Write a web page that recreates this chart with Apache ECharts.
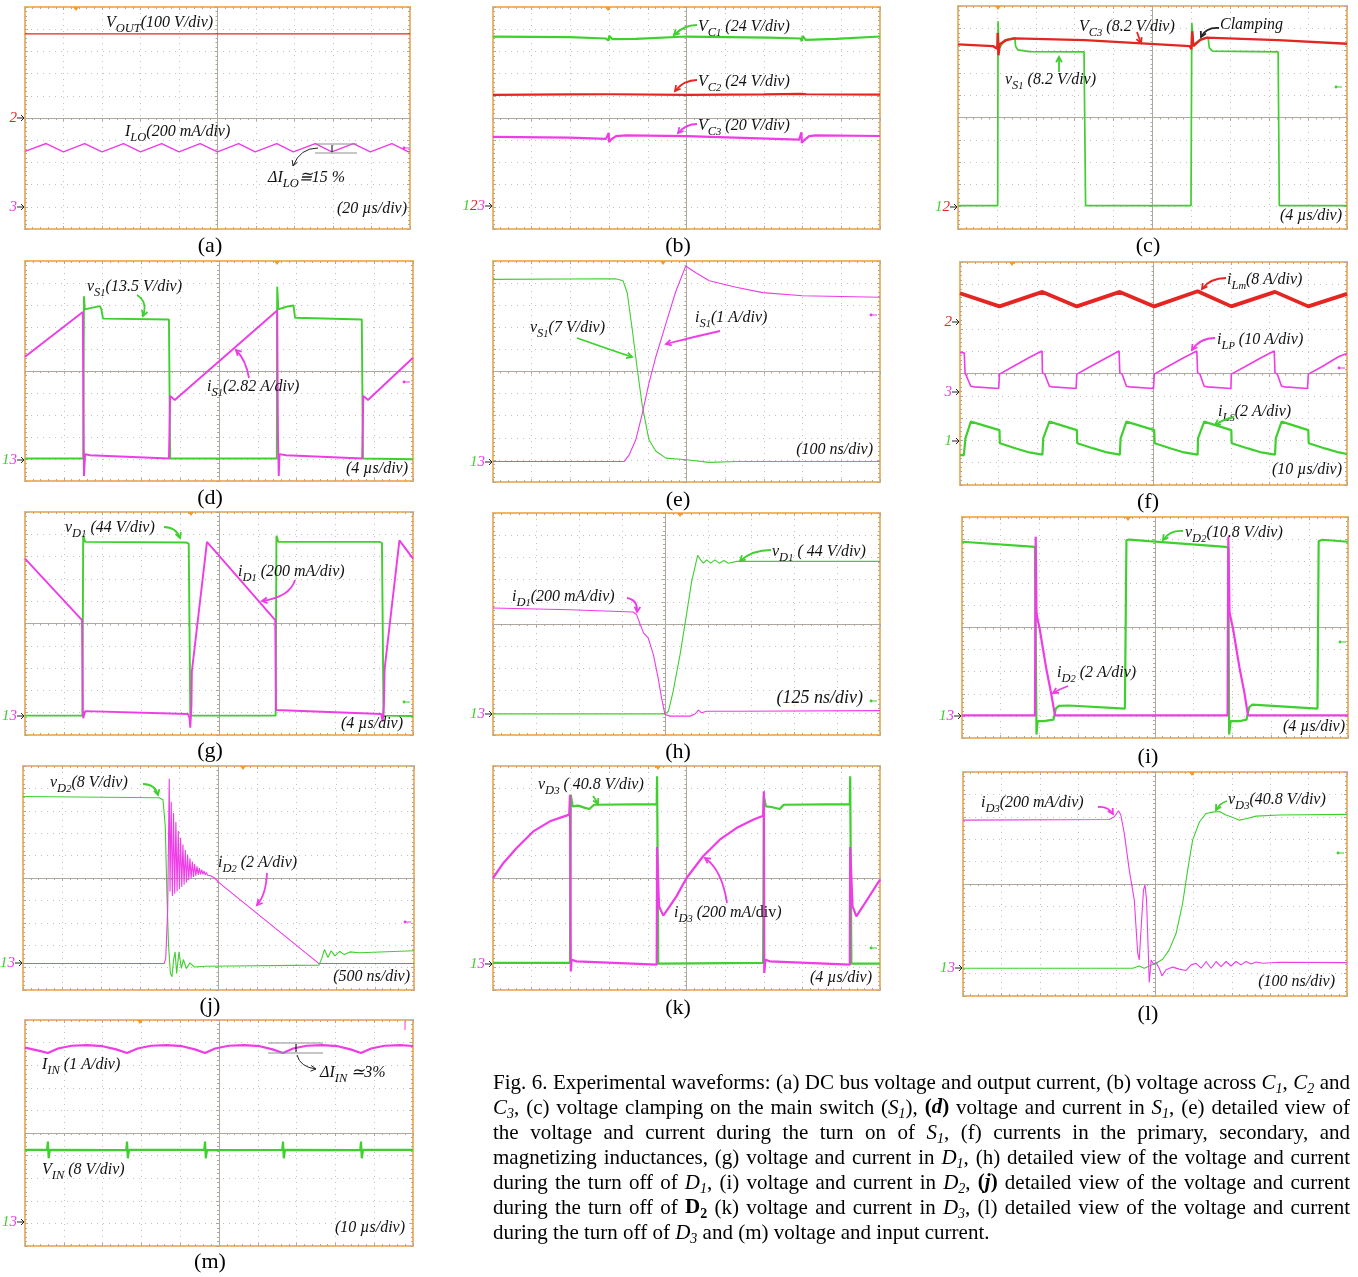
<!DOCTYPE html>
<html lang="en">
<head>
<meta charset="UTF-8">
<title>Fig. 6 experimental waveforms</title>
<style>
  html, body { margin: 0; padding: 0; background: #fff; }
  #main { width: 1358px; height: 1277px; }
</style>
<script src="https://cdn.jsdelivr.net/npm/echarts@6/dist/echarts.min.js"></script>
</head>
<body>
<div id="main"></div>
<script>
// every trace is [time, amplitude] in scope divisions, 0 = screen centre
var aVout = [[-5,3.79],[5,3.79]];
var aIlo = [[-5,-1.5],[-4.45,-1.15],[-4,-1.53],[-3.45,-1.15],[-3,-1.53],[-2.44,-1.15],[-2,-1.53],[-1.45,-1.15],[-1,-1.53],[-0.45,-1.15],[0,-1.53],[0.55,-1.15],[0.98,-1.53],[1.54,-1.15],[1.97,-1.53],[2.54,-1.15],[2.97,-1.53],[3.53,-1.15],[3.97,-1.53],[4.53,-1.15],[4.96,-1.53],[5,-1.5]];

var bVc1 = [[-5,3.67],[-3.03,3.64],[-2.08,3.58],[-2.04,3.64],[-2.01,3.49],[-2.0,3.7],[-1.91,3.55],[-1.31,3.56],[0,3.67],[2.13,3.62],[2.95,3.58],[2.98,3.46],[3.0,3.7],[3.08,3.52],[3.86,3.56],[5,3.67]];
var bVc2 = [[-5,1.04],[-3,1.06],[-2.03,1.07],[-2.01,1.16],[-1.99,1.02],[-1.9,1.07],[0,1.04],[2.0,1.06],[2.96,1.09],[2.98,1.17],[3.0,1.02],[3.1,1.07],[5,1.05]];
var bVc3 = [[-5,-0.85],[-3.03,-0.88],[-2.08,-0.94],[-2.01,-0.67],[-2.0,-1.09],[-1.95,-0.97],[-1.82,-0.82],[-1.57,-0.78],[0,-0.82],[2.91,-0.97],[2.97,-0.64],[2.98,-1.12],[3.04,-1.0],[3.17,-0.82],[3.34,-0.78],[5,-0.81]];

var cVs1 = [[-5,-3.95],[-3.98,-3.95],[-3.97,4.32],[-3.95,3.06],[-3.8,3.47],[-3.54,3.58],[-3.52,3.2],[-3.46,3.03],[-3.16,2.95],[-1.76,2.94],[-1.72,-3.95],[0.99,-3.95],[1.01,4.25],[1.05,3.28],[1.23,3.5],[1.43,3.58],[1.46,3.13],[1.54,2.98],[3.23,2.94],[3.26,-3.95],[5,-3.95]];
var cVc3 = [[-5,3.28],[-4.1,3.2],[-3.99,3.08],[-3.98,3.8],[-3.96,2.79],[-3.93,3.28],[-3.76,3.47],[-3.54,3.55],[-1.74,3.47],[0.96,3.2],[1.0,3.06],[1.02,3.87],[1.05,3.2],[1.22,3.47],[1.39,3.58],[3.23,3.47],[5,3.31]];

var dIs1 = [[-5,0.65],[-3.51,2.68],[-3.49,-2.65],[-3.48,-4.77],[-3.45,-3.78],[-3.33,-3.83],[-1.29,-3.98],[-1.26,-1.13],[-1.14,-1.32],[1.5,2.75],[1.52,-2.95],[1.54,-4.77],[1.56,-3.78],[1.73,-3.83],[3.69,-3.98],[3.72,-1.13],[3.84,-1.32],[5,0.6]];
var dVs1 = [[-5,-3.98],[-3.5,-3.98],[-3.48,3.4],[-3.46,2.8],[-3.29,2.87],[-3.07,2.95],[-3.03,2.8],[-2.99,2.38],[-1.29,2.34],[-1.26,-3.98],[1.49,-3.98],[1.5,3.83],[1.53,2.8],[1.73,2.92],[1.92,2.98],[1.96,2.42],[3.68,2.34],[3.71,-3.98],[5,-4.01]];

var eVs1 = [[-5,4.17],[-1.83,4.2],[-1.64,4.11],[-1.53,3.54],[-1.4,1.88],[-1.27,0.08],[-1.14,-1.58],[-0.97,-3.09],[-0.79,-3.61],[-0.53,-3.92],[0,-3.99],[0.59,-4.11],[1.28,-4.07],[5,-4.07]];
var eIs1 = [[-5,-4.07],[-1.61,-4.07],[-1.48,-3.77],[-1.31,-3.09],[-1.14,-1.88],[-0.97,-0.53],[-0.79,0.68],[-0.53,2.18],[-0.28,3.61],[-0.02,4.77],[0.24,4.47],[0.59,4.11],[1.28,3.81],[1.97,3.57],[3.0,3.43],[5,3.36]];

var fIlm = [[-5,3.6],[-4.97,3.64],[-3.98,3.01],[-2.87,3.66],[-1.98,3.01],[-0.87,3.66],[0.02,3.01],[1.14,3.69],[2.01,3.01],[3.14,3.66],[4.0,3.01],[5,3.57]];
var fIlp = [[-5,0.93],[-4.89,0.93],[-4.87,0.03],[-4.83,-0.03],[-4.72,-0.57],[-4.63,-0.6],[-4.0,-0.67],[-3.98,-0.03],[-3.64,0.3],[-3.21,0.72],[-2.88,1.01],[-2.87,0.03],[-2.81,-0.03],[-2.69,-0.57],[-2.61,-0.6],[-2.0,-0.67],[-1.98,-0.03],[-1.64,0.3],[-1.2,0.72],[-0.89,1.01],[-0.87,0.03],[-0.81,-0.03],[-0.7,-0.57],[-0.61,-0.6],[0,-0.67],[0.02,-0.03],[0.36,0.3],[0.79,0.72],[1.12,1.01],[1.14,0.03],[1.2,-0.03],[1.31,-0.57],[1.39,-0.6],[2.0,-0.67],[2.01,-0.03],[2.36,0.3],[2.79,0.72],[3.12,1.01],[3.14,0.03],[3.2,-0.03],[3.31,-0.57],[3.4,-0.6],[3.98,-0.67],[4.0,-0.03],[4.35,0.3],[4.79,0.76],[5,0.9]];
var fIls = [[-5,-3.66],[-4.9,-3.66],[-4.86,-2.91],[-4.83,-2.84],[-4.72,-2.16],[-3.98,-2.54],[-3.97,-3.13],[-3.94,-3.16],[-3.55,-3.36],[-3.21,-3.54],[-2.87,-3.64],[-2.85,-2.91],[-2.81,-2.84],[-2.69,-2.16],[-1.98,-2.54],[-1.97,-3.13],[-1.94,-3.16],[-1.55,-3.36],[-1.2,-3.54],[-0.87,-3.64],[-0.85,-2.91],[-0.82,-2.84],[-0.7,-2.16],[0.02,-2.54],[0.03,-3.13],[0.06,-3.16],[0.45,-3.36],[0.79,-3.54],[1.14,-3.64],[1.15,-2.91],[1.19,-2.84],[1.31,-2.16],[2.01,-2.54],[2.02,-3.13],[2.06,-3.16],[2.44,-3.36],[2.79,-3.54],[3.14,-3.64],[3.16,-2.91],[3.19,-2.84],[3.31,-2.16],[4.0,-2.54],[4.01,-3.13],[4.04,-3.16],[4.43,-3.36],[4.79,-3.54],[5,-3.61]];

var gId1 = [[-5,2.91],[-3.53,0.15],[-3.51,-3.88],[-3.5,-4.25],[-3.45,-3.93],[-0.8,-4.06],[-0.76,-4.25],[-0.74,-4.67],[-0.71,-3.66],[-0.7,-2.16],[-0.31,3.66],[1.45,0.15],[1.47,-3.88],[1.49,-3.93],[4.18,-4.06],[4.22,-4.4],[4.25,-3.66],[4.27,-2.01],[4.65,3.73],[5,2.91]];
var gVd1 = [[-5,-4.13],[-3.52,-4.13],[-3.5,3.93],[-3.45,3.66],[-0.84,3.63],[-0.78,3.58],[-0.74,-4.13],[1.46,-4.13],[1.48,3.93],[1.53,3.66],[4.14,3.66],[4.2,3.61],[4.24,-4.13],[5,-4.15]];

var hId1 = [[-4,0.72],[-2.21,0.64],[-0.74,0.54],[-0.66,0.42],[-0.58,0],[-0.5,-0.4],[-0.39,-0.63],[-0.27,-1.38],[-0.16,-2.43],[-0.08,-3.33],[0,-4.08],[0.12,-4.15],[0.58,-4.15],[0.7,-4.05],[0.78,-3.88],[0.85,-4.0],[0.97,-3.93],[1.67,-3.93],[5,-3.9]];
var hVd1 = [[-4,-4.05],[0,-4.05],[0.08,-3.93],[0.19,-3.03],[0.35,-1.38],[0.5,0.42],[0.62,1.92],[0.76,3.09],[0.83,2.89],[0.89,2.74],[0.97,2.89],[1.06,2.74],[1.16,2.89],[1.26,2.74],[1.37,2.86],[1.47,2.74],[1.67,2.82],[5,2.82]];

var iVd2 = [[-5,3.88],[-3.11,3.65],[-3.09,3.61],[-3.07,-4.84],[-3.04,-4.24],[-2.88,-4.24],[-2.63,-4.17],[-2.57,-3.67],[-2.49,-3.55],[-2.23,-3.53],[-0.78,-3.67],[-0.74,3.95],[-0.67,3.98],[-0.16,3.91],[1.83,3.65],[1.9,3.61],[1.92,-4.84],[1.96,-4.24],[2.18,-4.24],[2.37,-4.17],[2.44,-3.61],[2.52,-3.49],[4.21,-3.67],[4.24,3.91],[4.34,3.97],[5,3.88]];
var iId2 = [[-5,-3.98],[-3.11,-3.98],[-3.09,4.11],[-3.07,0.72],[-3.04,0.35],[-2.99,-0.03],[-2.92,-0.78],[-2.82,-1.83],[-2.7,-2.89],[-2.59,-3.98],[1.88,-3.98],[1.9,4.11],[1.93,0.72],[1.97,0.35],[2.02,-0.03],[2.09,-0.78],[2.19,-1.83],[2.31,-2.89],[2.41,-3.98],[5,-3.98]];

var jVd2 = [[-5,3.64],[-1.52,3.58],[-1.42,3.49],[-1.36,2.27],[-1.32,-0.7],[-1.28,-2.93],[-1.23,-4.26],[-1.19,-4.41],[-1.15,-3.67],[-1.11,-3.3],[-1.07,-4.26],[-1.01,-3.3],[-0.95,-4.04],[-0.9,-3.64],[-0.82,-4.04],[-0.73,-3.79],[-0.62,-3.97],[-0.32,-3.94],[2.57,-3.89],[2.64,-3.6],[2.71,-3.19],[2.8,-3.55],[2.88,-3.25],[2.98,-3.48],[3.1,-3.28],[3.22,-3.42],[3.36,-3.3],[3.6,-3.34],[5,-3.25]];
var jId2 = [[-5,-3.82],[-1.39,-3.82],[-1.35,-3.6],[-1.3,-1.44],[-1.26,4.43],[-1.24,-0.6],[-1.21,3.4],[-1.18,-0.8],[-1.15,2.9],[-1.12,-0.7],[-1.09,2.5],[-1.06,-0.6],[-1.03,2.1],[-1.0,-0.5],[-0.97,1.8],[-0.94,-0.4],[-0.91,1.5],[-0.88,-0.3],[-0.85,1.25],[-0.82,-0.2],[-0.79,1.05],[-0.76,-0.1],[-0.73,0.88],[-0.7,-0.02],[-0.67,0.74],[-0.64,0.05],[-0.61,0.62],[-0.58,0.1],[-0.55,0.52],[-0.52,0.14],[-0.49,0.44],[-0.46,0.16],[-0.43,0.37],[-0.4,0.16],[-0.37,0.31],[-0.34,0.14],[-0.31,0.25],[-0.28,0.12],[-0.25,0.18],[-0.2,0.1],[-0.1,0.0],[0.02,-0.22],[2.57,-3.82],[5,-3.82]];

var kId3 = [[-5,0],[-4.73,0.67],[-4.39,1.34],[-3.96,2.08],[-3.53,2.53],[-3.03,2.83],[-3.01,3.72],[-2.99,-4.17],[-2.97,-3.65],[-2.84,-3.72],[-0.77,-3.87],[-0.76,1.38],[-0.71,-1.26],[-0.6,-1.68],[-0.43,-1.26],[-0.26,-0.82],[0,0],[0.43,0.97],[0.86,1.71],[1.29,2.23],[1.72,2.6],[1.98,2.78],[2.0,3.87],[2.01,-4.24],[2.04,-3.65],[2.15,-3.72],[4.22,-3.87],[4.23,1.38],[4.29,-1.26],[4.39,-1.71],[4.56,-1.26],[5,-0.07]];
var kVd3 = [[-5,-3.79],[-3.01,-3.79],[-2.99,3.72],[-2.94,3.2],[-2.8,3.23],[-2.62,3.13],[-2.51,3.08],[-2.39,3.27],[-0.77,3.3],[-0.76,4.54],[-0.73,-3.82],[1.98,-3.79],[2.0,3.65],[2.05,3.2],[2.19,3.17],[2.41,3.08],[2.51,3.27],[4.22,3.3],[4.23,4.54],[4.26,-3.82],[5,-3.82]];

var lId3 = [[-5,2.85],[-1.19,2.88],[-1.06,3.0],[-0.95,3.27],[-0.89,3.08],[-0.8,2.26],[-0.67,0.62],[-0.54,-0.71],[-0.45,-3.09],[-0.41,-3.39],[-0.37,-2.2],[-0.3,-0.27],[-0.26,-0.04],[-0.22,-0.71],[-0.18,-2.79],[-0.15,-4.4],[-0.1,-3.39],[-0.04,-3.57],[0.03,-3.51],[0.11,-3.76],[0.18,-4.1],[0.29,-3.83],[0.46,-3.71],[0.63,-3.8],[0.81,-3.86],[0.94,-3.61],[1.07,-3.54],[1.2,-3.76],[1.33,-3.46],[1.46,-3.76],[1.59,-3.46],[1.72,-3.69],[1.85,-3.46],[1.98,-3.66],[2.11,-3.46],[2.24,-3.61],[2.37,-3.46],[2.5,-3.57],[2.63,-3.48],[2.81,-3.54],[3.24,-3.49],[5,-3.51]];
var lVd3 = [[-5,-3.76],[-0.58,-3.76],[-0.41,-3.66],[-0.28,-3.76],[-0.15,-3.66],[0.03,-3.54],[0.2,-3.36],[0.37,-2.94],[0.55,-2.2],[0.72,-0.86],[0.85,0.62],[0.98,1.96],[1.16,2.78],[1.33,3.15],[1.5,3.21],[1.68,3.24],[1.85,3.08],[2.03,2.97],[2.2,2.85],[2.37,2.91],[2.63,3.03],[3.24,3.08],[5,3.11]];

var mIin = [[-5,3.78],[-4.8,3.7],[-4.6,3.62],[-4.41,3.54],[-4.15,3.74],[-3.8,3.86],[-3.4,3.89],[-3.0,3.84],[-2.65,3.7],[-2.37,3.54],[-2.1,3.74],[-1.75,3.86],[-1.35,3.89],[-0.95,3.84],[-0.62,3.7],[-0.36,3.54],[-0.1,3.74],[0.25,3.86],[0.65,3.89],[1.05,3.84],[1.38,3.7],[1.65,3.54],[1.91,3.74],[2.26,3.86],[2.66,3.89],[3.06,3.84],[3.39,3.7],[3.66,3.54],[3.92,3.74],[4.27,3.86],[4.67,3.89],[5,3.85]];
var mVin = [[-5,-0.75],[-4.43,-0.75],[-4.41,-0.38],[-4.39,-1.12],[-4.36,-0.75],[-2.39,-0.76],[-2.37,-0.38],[-2.35,-1.12],[-2.32,-0.75],[-0.38,-0.75],[-0.36,-0.38],[-0.34,-1.12],[-0.31,-0.76],[1.63,-0.75],[1.65,-0.38],[1.67,-1.12],[1.7,-0.75],[3.64,-0.76],[3.66,-0.38],[3.68,-1.12],[3.71,-0.75],[5,-0.75]];

var panelLetters = ['(a)','(b)','(c)','(d)','(e)','(f)','(g)','(h)','(i)','(j)','(k)','(l)','(m)'];

var capLines = [
  "Fig. 6. Experimental waveforms: (a) DC bus voltage and output current, (b) voltage across {i|C}{s|1}, {i|C}{s|2} and",
  "{i|C}{s|3}, (c) voltage clamping on the main switch ({i|S}{s|1}), {b|(}{bi|d}{b|)} voltage and current in {i|S}{s|1}, (e) detailed view of",
  "the voltage and current during the turn on of {i|S}{s|1}, (f) currents in the primary, secondary, and",
  "magnetizing inductances, (g) voltage and current in {i|D}{s|1}, (h) detailed view of the voltage and current",
  "during the turn off of {i|D}{s|1}, (i) voltage and current in {i|D}{s|2}, {b|(}{bi|j}{b|)} detailed view of the voltage and current",
  "during the turn off of {b|D}{bs|2} (k) voltage and current in {i|D}{s|3}, (l) detailed view of the voltage and current",
  "during the turn off of {i|D}{s|3} and (m) voltage and input current."
];

var GREEN = '#3fcf2f', RED = '#e42522', MAG = '#ee3ce6';
var SERIF = '"Liberation Serif", "Times New Roman", serif';

// screen boxes [left, top, width, height] and trace styling
var panels = [
  {box:[25,7,385,222],    xr:[-5,5], lx:210,  ly:246,  traces:[[aVout,RED,1.4],[aIlo,MAG,1.4]]},
  {box:[493,7,387,222],   xr:[-5,5], lx:678,  ly:246,  traces:[[bVc1,GREEN,2.2],[bVc2,RED,2.2],[bVc3,MAG,2.2]]},
  {box:[958,6,389,223],   xr:[-5,5], lx:1148, ly:246,  traces:[[cVs1,GREEN,1.7],[cVc3,RED,2.4]]},
  {box:[25,261,388,220],  xr:[-5,5], lx:210,  ly:498,  traces:[[dVs1,GREEN,1.9],[dIs1,MAG,1.9]]},
  {box:[493,261,387,221], xr:[-5,5], lx:678,  ly:500,  traces:[[eVs1,GREEN,1.1],[eIs1,MAG,1.1]]},
  {box:[960,262,387,223], xr:[-5,5], lx:1148, ly:502,  traces:[[fIls,GREEN,2.2],[fIlp,MAG,1.6],[fIlm,RED,3.8]]},
  {box:[25,512,388,223],  xr:[-5,5], lx:210,  ly:751,  traces:[[gVd1,GREEN,1.9],[gId1,MAG,1.9]]},
  {box:[493,513,387,222], xr:[-4,5], lx:678,  ly:752,  traces:[[hVd1,GREEN,1.1],[hId1,MAG,1.1]]},
  {box:[962,517,386,221], xr:[-5,5], lx:1148, ly:757,  traces:[[iVd2,GREEN,2.2],[iId2,MAG,2.2]]},
  {box:[23,766,391,224],  xr:[-5,5], lx:210,  ly:1006, traces:[[jVd2,GREEN,1.1],[jId2,MAG,1.1]]},
  {box:[493,766,387,224], xr:[-5,5], lx:678,  ly:1008, traces:[[kVd3,GREEN,2.2],[kId3,MAG,2.2]]},
  {box:[963,772,384,224], xr:[-5,5], lx:1148, ly:1014, traces:[[lVd3,GREEN,1.1],[lId3,MAG,1.1]]},
  {box:[25,1020,388,226], xr:[-5,5], lx:210,  ly:1262, traces:[[mVin,GREEN,2.2],[mIin,MAG,2.2]]}
];

function scopeAxis(gi, range, pos, offset, centre) {
  var c = '#aea89e';
  return {
    type: 'value', gridIndex: gi, min: range[0], max: range[1], interval: 1,
    position: pos, offset: offset, silent: true,
    axisLine: {show: centre, onZero: false, lineStyle: {color: c, width: 1}},
    axisTick: {show: true, inside: !centre, length: 3, lineStyle: {color: c}},
    minorTick: {show: true, splitNumber: 5, length: 2, lineStyle: {color: c}},
    axisLabel: {show: false},
    splitLine: {show: centre, lineStyle: {color: '#c2c2c2', type: [1, 5], width: 1}}
  };
}

var grids = [], xAxes = [], yAxes = [], series = [], gfx = [];

panels.forEach(function (p, gi) {
  var l = p.box[0], t = p.box[1], w = p.box[2], h = p.box[3];
  grids.push({left: l, top: t, width: w, height: h, show: true, backgroundColor: '#fff',
              borderColor: '#f3b562', borderWidth: 2});
  var xc = xAxes.length, yc = yAxes.length;
  var yOff = -w * (0 - p.xr[0]) / (p.xr[1] - p.xr[0]);
  xAxes.push(scopeAxis(gi, p.xr, 'bottom', -h / 2, true));
  xAxes.push(scopeAxis(gi, p.xr, 'top', 0, false));
  xAxes.push(scopeAxis(gi, p.xr, 'bottom', 0, false));
  yAxes.push(scopeAxis(gi, [-5, 5], 'left', yOff, true));
  yAxes.push(scopeAxis(gi, [-5, 5], 'right', 0, false));
  yAxes.push(scopeAxis(gi, [-5, 5], 'left', 0, false));
  p.traces.forEach(function (tr) {
    series.push({type: 'line', xAxisIndex: xc, yAxisIndex: yc, data: tr[0], symbol: 'none',
                 silent: true, animation: false, z: 3,
                 lineStyle: {color: tr[1], width: tr[2]}});
  });
  gfx.push({type: 'text', x: p.lx, y: p.ly, z: 50, silent: true,
            style: {text: panelLetters[gi], fontFamily: SERIF, fontSize: 22, fill: '#000',
                    align: 'center', verticalAlign: 'middle'}});
});

// annotation helpers
var annRich = {
  s:  {fontFamily: SERIF, fontSize: 12.5, fontStyle: 'italic', lineHeight: 12, verticalAlign: 'bottom'},
  ss: {fontFamily: SERIF, fontSize: 10.5, fontStyle: 'italic', lineHeight: 8,  verticalAlign: 'bottom'},
  n:  {fontFamily: SERIF, fontSize: 16, fontStyle: 'normal', lineHeight: 24}
};
function note(s, x, y, align, size) {
  gfx.push({type: 'text', x: x, y: y, z: 50, silent: true,
            style: {text: s, fontFamily: SERIF, fontSize: size || 16, fontStyle: 'italic', lineHeight: 24,
                    fill: '#111', align: align || 'left', verticalAlign: 'middle', rich: annRich}});
}
function arrow(x1, y1, cx, cy, x2, y2, color, lw) {
  var a = Math.atan2(y2 - cy, x2 - cx), L = 6, s = 0.5;
  lw = lw || 1.8;
  gfx.push({type: 'bezierCurve', z: 50, silent: true,
            shape: {x1: x1, y1: y1, x2: x2, y2: y2, cpx1: cx, cpy1: cy},
            style: {stroke: color, lineWidth: lw, fill: 'none'}});
  gfx.push({type: 'polyline', z: 50, silent: true,
            shape: {points: [[x2 - L * Math.cos(a - s), y2 - L * Math.sin(a - s)], [x2, y2],
                             [x2 - L * Math.cos(a + s), y2 - L * Math.sin(a + s)]]},
            style: {stroke: color, lineWidth: lw, fill: 'none'}});
}
var chRich = {
  g: {fill: GREEN, fontFamily: SERIF, fontSize: 15, fontStyle: 'italic'},
  r: {fill: RED, fontFamily: SERIF, fontSize: 15, fontStyle: 'italic'},
  m: {fill: MAG, fontFamily: SERIF, fontSize: 15, fontStyle: 'italic'}
};
function chan(s, x, y) {
  gfx.push({type: 'text', x: x - 8, y: y, z: 50, silent: true,
            style: {text: s, align: 'right', verticalAlign: 'middle', rich: chRich,
                    fontFamily: SERIF, fontSize: 15, fontStyle: 'italic'}});
  gfx.push({type: 'polyline', z: 50, silent: true,
            shape: {points: [[x - 8, y], [x - 1, y]]}, style: {stroke: '#222', lineWidth: 1}});
  gfx.push({type: 'polyline', z: 50, silent: true,
            shape: {points: [[x - 4, y - 3], [x - 1, y], [x - 4, y + 3]]},
            style: {stroke: '#222', lineWidth: 1, fill: 'none'}});
}
function trig(x, y) {
  gfx.push({type: 'polygon', z: 50, silent: true, shape: {points: [[x - 3, y], [x + 3, y], [x, y + 4]]},
            style: {fill: '#f39a2b'}});
}
function mark(x, y, color) {
  gfx.push({type: 'line', z: 50, silent: true, shape: {x1: x - 6, y1: y, x2: x, y2: y},
            style: {stroke: color, lineWidth: 1}});
  gfx.push({type: 'circle', z: 50, silent: true, shape: {cx: x - 6, cy: y, r: 1.4}, style: {fill: color}});
}
function hline(x1, x2, y, color) {
  gfx.push({type: 'line', z: 50, silent: true, shape: {x1: x1, y1: y, x2: x2, y2: y},
            style: {stroke: color, lineWidth: 1.2}});
}
function vline(x, y1, y2, color) {
  gfx.push({type: 'line', z: 50, silent: true, shape: {x1: x, y1: y1, x2: x, y2: y2},
            style: {stroke: color, lineWidth: 1}});
}

// (a)
note('V{s|OUT}(100 V/div)', 106, 23);
note('I{s|LO}(200 mA/div)', 125, 132);
note('ΔI{s|LO}≅15 %', 268, 178);
note('(20 µs/div)', 407, 209, 'right');
hline(315, 357, 144, '#8d8d8d'); hline(315, 357, 153, '#8d8d8d'); vline(332, 145, 152, '#000');
arrow(318, 148, 300, 148, 293, 166, '#222', 1);
chan('{r|2}', 25, 118); chan('{m|3}', 25, 207);
trig(76, 7); mark(410, 148, MAG);
// (b)
note('V{s|C}{ss|1} (24 V/div)', 698, 27);
note('V{s|C}{ss|2} (24 V/div)', 698, 82);
note('V{s|C}{ss|3} (20 V/div)', 698, 126);
arrow(697, 25, 684, 25, 674, 35, GREEN);
arrow(697, 80, 684, 80, 675, 91, RED);
arrow(697, 124, 686, 124, 678, 133, MAG);
chan('{g|1}{r|2}{m|3}', 493, 206);
trig(608, 7);
// (c)
note('V{s|C}{ss|3} (8.2 V/div)', 1079, 27);
note('Clamping', 1220, 25);
note('v{s|S}{ss|1} (8.2 V/div)', 1005, 80);
note('(4 µs/div)', 1342, 216, 'right');
arrow(1137, 32, 1139, 38, 1141, 43, RED);
arrow(1219, 28, 1206, 27, 1201, 37, '#222');
arrow(1059, 72, 1059, 64, 1059, 57, GREEN);
chan('{g|1}{r|2}', 958, 207);
trig(998, 6); mark(1342, 87, GREEN);
// (d)
note('v{s|S}{ss|1}(13.5 V/div)', 87, 287);
note('i{s|S}{ss|1}(2.82 A/div)', 207, 387);
note('(4 µs/div)', 408, 469, 'right');
arrow(137, 295, 148, 302, 143, 316, GREEN);
arrow(249, 378, 246, 360, 236, 350, MAG);
chan('{g|1}{m|3}', 25, 460);
trig(277, 261); mark(410, 382, MAG);
// (e)
note('v{s|S}{ss|1}(7 V/div)', 530, 328);
note('i{s|S}{ss|1}(1 A/div)', 695, 318);
note('(100 ns/div)', 873, 450, 'right');
arrow(577, 338, 605, 348, 632, 357, GREEN);
arrow(720, 331, 693, 337, 666, 344, MAG);
chan('{g|1}{m|3}', 493, 462);
trig(663, 261); mark(877, 315, MAG);
// (f)
note('i{s|L}{ss|m}(8 A/div)', 1227, 280);
note('i{s|L}{ss|P} (10 A/div)', 1217, 340);
note('i{s|L}{ss|S}(2 A/div)', 1218, 412);
note('(10 µs/div)', 1342, 470, 'right');
arrow(1226, 278, 1210, 278, 1202, 289, RED);
arrow(1215, 338, 1200, 338, 1192, 350, MAG);
arrow(1234, 417, 1224, 419, 1215, 425, GREEN);
chan('{r|2}', 960, 322); chan('{m|3}', 960, 392); chan('{g|1}', 960, 441);
trig(1012, 262); mark(1345, 368, MAG);
// (g)
note('v{s|D}{ss|1} (44 V/div)', 65, 528);
note('i{s|D}{ss|1} (200 mA/div)', 238, 572);
note('(4 µs/div)', 403, 724, 'right');
arrow(164, 527, 176, 527, 180, 538, GREEN);
arrow(295, 580, 290, 597, 262, 601, MAG);
chan('{g|1}{m|3}', 25, 716);
trig(191, 512); mark(410, 702, GREEN);
// (h)
note('i{s|D}{ss|1}(200 mA/div)', 512, 597);
note('v{s|D}{ss|1} ( 44 V/div)', 772, 552);
note('(125 ns/div)', 863, 698, 'right', 18);
arrow(627, 598, 638, 600, 637, 612, MAG);
arrow(771, 550, 752, 550, 740, 561, GREEN);
chan('{g|1}{m|3}', 493, 714);
trig(680, 513); mark(877, 701, GREEN);
// (i)
note('v{s|D}{ss|2}(10.8 V/div)', 1185, 533);
note('i{s|D}{ss|2} (2 A/div)', 1057, 673);
note('(4 µs/div)', 1345, 727, 'right');
arrow(1183, 531, 1170, 530, 1163, 540, GREEN);
arrow(1068, 686, 1060, 689, 1053, 693, MAG);
chan('{g|1}{m|3}', 962, 716);
trig(1128, 517); mark(1346, 642, GREEN);
// (j)
note('v{s|D}{ss|2}(8 V/div)', 50, 783);
note('i{s|D}{ss|2} (2 A/div)', 218, 863);
note('(500 ns/div)', 410, 977, 'right');
arrow(143, 784, 155, 784, 158, 795, GREEN);
arrow(267, 873, 266, 895, 257, 905, MAG);
chan('{g|1}{m|3}', 23, 963);
trig(243, 766); mark(411, 922, MAG);
// (k)
note('v{s|D}{ss|3} ( 40.8 V/div)', 538, 785);
note('i{s|D}{ss|3} (200 mA{n|/div})', 674, 913);
note('(4 µs/div)', 872, 978, 'right');
arrow(593, 796, 596, 800, 598, 804, GREEN);
arrow(727, 903, 722, 870, 705, 858, MAG);
chan('{g|1}{m|3}', 493, 964);
trig(658, 766); mark(877, 948, GREEN);
// (l)
note('i{s|D}{ss|3}(200 mA/div)', 981, 803);
note('v{s|D}{ss|3}(40.8 V/div)', 1228, 800);
note('(100 ns/div)', 1335, 982, 'right');
arrow(1098, 807, 1108, 806, 1113, 814, MAG);
arrow(1227, 801, 1220, 803, 1216, 810, GREEN);
chan('{g|1}{m|3}', 963, 968);
trig(1192, 772); mark(1344, 853, GREEN);
// (m)
note('I{s|IN} (1 A/div)', 42, 1065);
note('V{s|IN} (8 V/div)', 42, 1170);
note('ΔI{s|IN} ≃3%', 320, 1073);
note('(10 µs/div)', 405, 1228, 'right');
hline(268, 323, 1043, '#8d8d8d'); hline(268, 323, 1053, '#8d8d8d'); vline(296, 1044, 1052, '#000');
arrow(297, 1055, 300, 1067, 316, 1069, '#222', 1);
chan('{g|1}{m|3}', 25, 1222);
trig(140, 1020); vline(405, 1021, 1030, MAG);

// justified caption
var capRich = {
  i:  {fontFamily: SERIF, fontSize: 21, fontStyle: 'italic', lineHeight: 26},
  s:  {fontFamily: SERIF, fontSize: 14, fontStyle: 'italic', lineHeight: 14, verticalAlign: 'bottom'},
  b:  {fontFamily: SERIF, fontSize: 21, fontWeight: 'bold', lineHeight: 26},
  bi: {fontFamily: SERIF, fontSize: 21, fontWeight: 'bold', fontStyle: 'italic', lineHeight: 26},
  bs: {fontFamily: SERIF, fontSize: 14, fontWeight: 'bold', lineHeight: 14, verticalAlign: 'bottom'}
};
var capBase = {fontFamily: SERIF, fontSize: 21};
var mctx = document.createElement('canvas').getContext('2d');
function fontStr(st) {
  return (st.fontStyle || 'normal') + ' ' + (st.fontWeight || 'normal') + ' ' + st.fontSize + 'px ' + st.fontFamily;
}
function richWidth(str) {
  var re = /\{(\w+)\|([^}]*)\}|([^{]+)/g, m, w = 0;
  while ((m = re.exec(str))) {
    mctx.font = fontStr(m[1] ? capRich[m[1]] : capBase);
    w += mctx.measureText(m[1] ? m[2] : m[3]).width;
  }
  return w;
}
var capL = 493, capR = 1350, capY0 = 1083, capLH = 25;
mctx.font = fontStr(capBase);
var spaceW = mctx.measureText(' ').width;
capLines.forEach(function (line, li) {
  var words = line.split(' ');
  var ws = words.map(richWidth);
  var total = ws.reduce(function (a, b) { return a + b; }, 0);
  var last = li === capLines.length - 1;
  var gap = last ? spaceW : (capR - capL - total) / (words.length - 1);
  var x = capL;
  words.forEach(function (wd, k) {
    gfx.push({type: 'text', x: x, y: capY0 + li * capLH, z: 50, silent: true,
              style: {text: wd, fontFamily: SERIF, fontSize: 21, lineHeight: 26, fill: '#000',
                      align: 'left', verticalAlign: 'middle', rich: capRich}});
    x += ws[k] + gap;
  });
});

var chart = echarts.init(document.getElementById('main'), null, {renderer: 'canvas'});
chart.setOption({
  animation: false,
  backgroundColor: '#fff',
  grid: grids,
  xAxis: xAxes,
  yAxis: yAxes,
  series: series,
  graphic: {elements: gfx}
});
</script>
</body>
</html>
